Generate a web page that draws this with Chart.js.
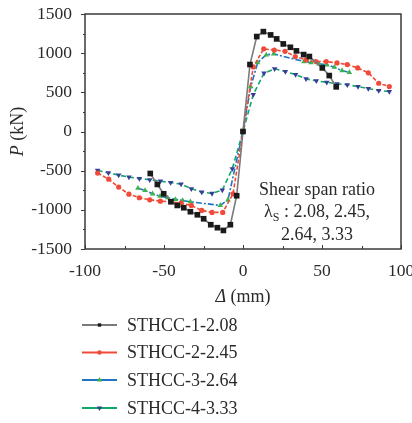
<!DOCTYPE html>
<html>
<head>
<meta charset="utf-8">
<script src="https://cdn.jsdelivr.net/npm/chart.js@4.4.1/dist/chart.umd.min.js"></script>
<style>
  html, body { margin: 0; padding: 0; background: #fff; }
  #wrap { width: 412px; height: 423px; }
</style>
</head>
<body>
<div id="wrap"><canvas id="hysteresis" width="412" height="423"></canvas></div>
<script>
// displacement (mm) and load (kN)
var s1x = [-58.7, -54.2, -50.2, -45.6, -41.6, -37.5, -33.3, -28.9, -24.9, -20.4, -16.2, -12.4, -8, -4, 0,
           4.4, 8.7, 12.9, 17.5, 21.3, 25.5, 30, 33.8, 38.4, 42, 50.2, 54.6, 59];
var s1y = [-536, -676, -795, -897, -944, -973, -1024, -1063, -1114, -1190, -1228, -1263, -1190, -820, 0,
           855, 1212, 1275, 1233, 1182, 1118, 1075, 1029, 982, 957, 812, 714, 570];

var s2x = [-92, -85, -78.7, -72.2, -65.6, -59, -52.3, -45.8, -39.2, -32.7, -26.1, -19.6, -12.8, -6.3, 0,
           6.5, 13.1, 19.8, 26.6, 33.1, 39.9, 46.2, 52.7, 59.5, 66, 72.6, 79.3, 85.9, 92.6];
var s2y = [-531, -608, -710, -800, -846, -872, -889, -897, -914, -944, -1008, -1033, -1033, -795, 0,
           825, 1055, 1040, 1024, 957, 914, 893, 893, 876, 855, 812, 749, 616, 574];

var s3x = [-66.5, -62, -57.2, -52.5, -47.7, -42.8, -38.2, -33.3, -14.4, -9.5, 0,
           4.9, 9.3, 14.7, 19.4, 38.6, 43, 48.1, 53, 57.8, 62.7, 67.3];
var s3y = [-723, -753, -795, -825, -846, -867, -880, -897, -944, -872, 0,
           574, 880, 978, 991, 893, 880, 863, 851, 820, 778, 753];

var s4x = [-92, -85.2, -78.7, -72.2, -65.6, -59, -52.3, -45.8, -39.2, -32.7, -26.1, -19.6, -13.1, -6.8, 0,
           6.5, 13.3, 20, 26.8, 33.3, 39.9, 46.4, 53, 59.5, 66, 72.8, 79.3, 85.9, 92.6];
var s4y = [-497, -527, -557, -582, -600, -616, -634, -651, -672, -731, -774, -791, -748, -476, 0,
           472, 744, 800, 765, 727, 672, 647, 629, 608, 596, 574, 548, 523, 510];

var seriesNames = ['STHCC-1-2.08', 'STHCC-2-2.45', 'STHCC-3-2.64', 'STHCC-4-3.33'];
var xTicks = [-100, -50, 0, 50, 100];
var yTicks = [-1500, -1000, -500, 0, 500, 1000, 1500];

function pts(xs, ys) {
    return xs.map(function (x, i) { return { x: x, y: ys[i] }; });
}

var serif = '"Liberation Serif", "DejaVu Serif", serif';
var axisColor = '#3a3a3a';
var textColor = '#2a2a2a';

// box, minor ticks, axis titles, note and legend
var decorations = {
    id: 'decorations',
    afterDraw: function (chart) {
        var ctx = chart.ctx;
        var a = chart.chartArea;
        var xs = chart.scales.x, ys = chart.scales.y;
        ctx.save();
        ctx.strokeStyle = axisColor;
        ctx.lineWidth = 1.5;
        ctx.strokeRect(a.left, a.top, a.right - a.left, a.bottom - a.top);

        ctx.lineWidth = 1;
        ctx.beginPath();
        for (var v = -1500; v <= 1500; v += 250) {
            var py = Math.round(ys.getPixelForValue(v)) + 0.5;
            var len = (v % 500 === 0) ? 4 : 2;
            ctx.moveTo(a.left - len, py);
            ctx.lineTo(a.left, py);
        }
        for (var u = -100; u <= 100; u += 25) {
            var px = Math.round(xs.getPixelForValue(u)) + 0.5;
            var l2 = (u % 50 === 0) ? 4 : 3;
            ctx.moveTo(px, a.bottom);
            ctx.lineTo(px, a.bottom - l2);
        }
        ctx.stroke();

        ctx.fillStyle = textColor;
        // y title
        ctx.save();
        ctx.translate(18, (a.top + a.bottom) / 2);
        ctx.rotate(-Math.PI / 2);
        ctx.textBaseline = 'middle';
        ctx.font = 'italic 18px ' + serif;
        var w1 = ctx.measureText('P').width;
        ctx.font = '18px ' + serif;
        var w2 = ctx.measureText(' (kN)').width;
        var sx = -(w1 + w2) / 2;
        ctx.font = 'italic 18px ' + serif;
        ctx.textAlign = 'left';
        ctx.fillText('P', sx, 0);
        ctx.font = '18px ' + serif;
        ctx.fillText(' (kN)', sx + w1, 0);
        ctx.restore();

        // x title
        ctx.textBaseline = 'middle';
        ctx.textAlign = 'left';
        ctx.font = 'italic 18px ' + serif;
        var d1 = ctx.measureText('\u0394').width;
        ctx.font = '18px ' + serif;
        var d2 = ctx.measureText(' (mm)').width;
        var cx = xs.getPixelForValue(0);
        var tx = cx - (d1 + d2) / 2;
        ctx.font = 'italic 18px ' + serif;
        ctx.fillText('\u0394', tx, 297);
        ctx.font = '18px ' + serif;
        ctx.fillText(' (mm)', tx + d1, 297);

        // note
        ctx.textAlign = 'center';
        ctx.font = '18px ' + serif;
        ctx.fillText('Shear span ratio', 317, 190);
        var l1 = '\u03bb', sub = 'S', rest = ' : 2.08, 2.45,';
        var lw = ctx.measureText(l1).width;
        ctx.font = '12px ' + serif;
        var sw = ctx.measureText(sub).width;
        ctx.font = '18px ' + serif;
        var rw = ctx.measureText(rest).width;
        var lx = 317 - (lw + sw + rw) / 2;
        ctx.textAlign = 'left';
        ctx.fillText(l1, lx, 212);
        ctx.font = '12px ' + serif;
        ctx.fillText(sub, lx + lw, 218);
        ctx.font = '18px ' + serif;
        ctx.fillText(rest, lx + lw + sw, 212);
        ctx.textAlign = 'center';
        ctx.fillText('2.64, 3.33', 317, 235);

        // legend
        var ds = chart.data.datasets;
        var rows = [325, 352.5, 380, 408];
        var markSize = [2.4, 2.2, 3, 3];
        ctx.textAlign = 'left';
        for (var i = 0; i < ds.length; i++) {
            var y = rows[i];
            ctx.strokeStyle = ds[i].borderColor;
            ctx.lineWidth = 2;
            ctx.beginPath();
            ctx.moveTo(82, y);
            ctx.lineTo(117, y);
            ctx.stroke();
            ctx.fillStyle = ds[i].pointBackgroundColor;
            ctx.strokeStyle = ds[i].pointBorderColor;
            Chart.helpers.drawPoint(ctx, {
                pointStyle: ds[i].pointStyle,
                radius: markSize[i],
                rotation: ds[i].pointRotation || 0,
                borderWidth: 0
            }, 99.5, y);
            ctx.fillStyle = textColor;
            ctx.font = '18px ' + serif;
            ctx.textBaseline = 'middle';
            ctx.fillText(ds[i].label, 127, y + 1);
        }
        ctx.restore();
    }
};

var ctx = document.getElementById('hysteresis').getContext('2d');
var chart = new Chart(ctx, {
    type: 'scatter',
    data: {
        datasets: [{
            label: seriesNames[0],
            data: pts(s1x, s1y),
            showLine: true,
            borderColor: '#7a7a7a',
            borderWidth: 1.6,
            pointStyle: 'rect',
            pointRadius: 4,
            pointBackgroundColor: '#1a1a1a',
            pointBorderColor: '#1a1a1a',
            pointBorderWidth: 0
        }, {
            label: seriesNames[1],
            data: pts(s2x, s2y),
            showLine: true,
            borderColor: '#f04a38',
            borderWidth: 1.6,
            borderDash: [4, 2],
            pointStyle: 'circle',
            pointRadius: 2.6,
            pointBackgroundColor: '#f04a38',
            pointBorderColor: '#f04a38',
            pointBorderWidth: 0
        }, {
            label: seriesNames[2],
            data: pts(s3x, s3y),
            showLine: true,
            borderColor: '#1f74c4',
            borderWidth: 1.6,
            borderDash: [6, 2, 2, 2],
            pointStyle: 'triangle',
            pointRadius: 3.2,
            pointBackgroundColor: '#3cb44b',
            pointBorderColor: '#3cb44b',
            pointBorderWidth: 0
        }, {
            label: seriesNames[3],
            data: pts(s4x, s4y),
            showLine: true,
            borderColor: '#0fa86a',
            borderWidth: 1.6,
            borderDash: [5, 3],
            pointStyle: 'triangle',
            pointRotation: 180,
            pointRadius: 3.2,
            pointBackgroundColor: '#3b3c98',
            pointBorderColor: '#3b3c98',
            pointBorderWidth: 0
        }]
    },
    options: {
        responsive: false,
        animation: false,
        layout: { padding: { left: 0, right: 11, top: 14, bottom: 116 } },
        plugins: {
            legend: { display: false },
            tooltip: { enabled: false }
        },
        scales: {
            x: {
                type: 'linear',
                min: -100,
                max: 100,
                afterBuildTicks: function (scale) {
                    scale.ticks = xTicks.map(function (v) { return { value: v }; });
                },
                afterFit: function (scale) {
                    scale.height = 58;
                    scale.paddingLeft = 0;
                    scale.paddingRight = 0;
                },
                grid: { display: false, drawTicks: false },
                border: { display: false },
                ticks: {
                    padding: 12,
                    maxRotation: 0,
                    color: textColor,
                    font: { family: serif, size: 17.5 },
                    callback: function (v) { return String(v); }
                }
            },
            y: {
                type: 'linear',
                min: -1500,
                max: 1500,
                afterBuildTicks: function (scale) {
                    scale.ticks = yTicks.map(function (v) { return { value: v }; });
                },
                afterFit: function (scale) {
                    scale.width = 85;
                    scale.paddingTop = 0;
                    scale.paddingBottom = 0;
                },
                grid: { display: false, drawTicks: false },
                border: { display: false },
                ticks: {
                    padding: 13,
                    color: textColor,
                    font: { family: serif, size: 17.5 },
                    callback: function (v) { return String(v); }
                }
            }
        }
    },
    plugins: [decorations]
});
</script>
</body>
</html>
